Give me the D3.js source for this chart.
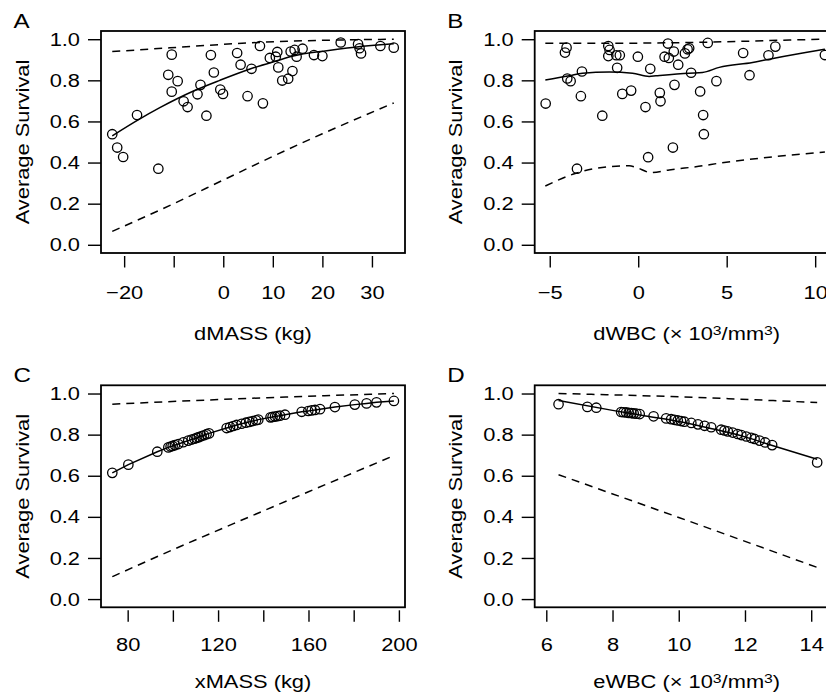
<!DOCTYPE html>
<html>
<head>
<meta charset="utf-8">
<script src="https://cdn.jsdelivr.net/npm/d3@7"></script>
<style>
  body { margin: 0; background: #fff; }
</style>
</head>
<body>
<div id="chart"></div>
<script>
"use strict"

// ---- data ----

// A: dMASS (kg)
const aMass = [-22.4, -21.4, -20.2, -17.4, -13.1, -11.1, -10.4, -10.4, -9.2, -8.0, -7.2, -5.2, -4.6, -3.4, -2.5, -1.9,
    -0.6, -0.05, 2.8, 3.5, 4.9, 5.7, 7.4, 8.0, 9.4, 10.6, 10.9, 11.1, 11.9, 13.1, 13.96, 13.6, 14.4, 14.8, 16.0,
    18.3, 20.0, 23.7, 27.2, 27.5, 27.8, 31.7, 34.4]
const aSurv = [0.538, 0.473, 0.427, 0.631, 0.370, 0.827, 0.925, 0.745, 0.796, 0.698, 0.670, 0.732, 0.778, 0.628, 0.923, 0.838,
    0.755, 0.734, 0.933, 0.876, 0.723, 0.856, 0.967, 0.688, 0.909, 0.915, 0.938, 0.863, 0.799, 0.808, 0.845, 0.940, 0.948, 0.915, 0.954,
    0.923, 0.918, 0.984, 0.976, 0.956, 0.931, 0.967, 0.959]
const aFitX = [-22.4, -17, -12.8, -6, -0.7, 5.4, 10.8, 14.1, 20.9, 25, 31.7, 34.4]
const aFitY = [0.53, 0.61, 0.667, 0.748, 0.80, 0.855, 0.895, 0.918, 0.944, 0.957, 0.973, 0.978]
const aUpX = [-22.4, -10.8, 2, 12.9, 23, 34.4]
const aUpY = [0.940, 0.958, 0.978, 0.990, 0.996, 1.0]
const aLoX = [-22.4, -10, 0, 10, 20, 34.4]
const aLoY = [0.065, 0.20, 0.315, 0.43, 0.54, 0.69]

// B: dWBC
const bWbc = [-5.23, -4.14, -4.05, -4.01, -3.82, -3.46, -3.24, -3.18, -2.03, -1.69, -1.62, -1.69, -1.24, -1.04, -1.19, -0.90,
    -0.40, -0.02, 0.41, 0.56, 0.68, 1.22, 1.26, 1.49, 1.68, 1.73, 2.01, 2.05, 1.96, 2.26, 2.64, 2.79, 2.88, 2.99,
    3.50, 3.67, 3.71, 3.93, 4.42, 5.93, 6.29, 7.36, 7.75, 10.55]
const bSurv = [0.687, 0.935, 0.959, 0.809, 0.796, 0.370, 0.723, 0.843, 0.628, 0.967, 0.948, 0.918, 0.922, 0.922, 0.861, 0.734,
    0.750, 0.915, 0.670, 0.426, 0.856, 0.739, 0.698, 0.915, 0.979, 0.909, 0.940, 0.778, 0.473, 0.876, 0.931, 0.951, 0.956, 0.837,
    0.746, 0.631, 0.538, 0.982, 0.796, 0.933, 0.825, 0.922, 0.964, 0.923]
const bFitX = [-5.25, -3.9, -3.15, -1.64, -0.32, 0.62, 1.0, 2.88, 3.63, 4.58, 6.46, 7.4, 10.04, 10.55]
const bFitY = [0.802, 0.822, 0.835, 0.841, 0.835, 0.819, 0.822, 0.835, 0.838, 0.863, 0.887, 0.903, 0.944, 0.951]
const bUpX = [-5.25, -2, 0, 2, 4, 6, 8, 10.55]
const bUpY = [0.980, 0.980, 0.981, 0.983, 0.986, 0.990, 0.995, 1.0]
const bLoX = [-5.25, -3.52, -2.39, -0.51, -0.13, 0.72, 1.75, 3.63, 4.58, 6.46, 10.55]
const bLoY = [0.286, 0.348, 0.372, 0.384, 0.377, 0.351, 0.364, 0.384, 0.397, 0.417, 0.451]

// C: xMASS (kg)
const cMass = [73.2, 80.3, 93.1, 98.0, 99.0, 99.9, 100.9, 102.4, 104.6, 106.8, 108.3, 109.5, 110.5, 111.5, 112.7, 113.8,
    114.9, 116.0, 123.8, 125.3, 126.7, 128.2, 130.4, 132.3, 133.8, 135.3, 136.8, 137.8, 143.2, 144.1, 145.2, 146.2,
    147.4, 149.6, 157.0, 159.9, 161.4, 162.9, 165.1, 171.7, 180.5, 185.7, 190.1, 197.8]
const cSurv = [0.614, 0.654, 0.717, 0.738, 0.742, 0.745, 0.749, 0.754, 0.763, 0.771, 0.776, 0.780, 0.784, 0.788, 0.793, 0.797,
    0.802, 0.806, 0.832, 0.837, 0.842, 0.847, 0.853, 0.858, 0.862, 0.866, 0.870, 0.873, 0.884, 0.886, 0.888, 0.890,
    0.892, 0.897, 0.911, 0.915, 0.918, 0.920, 0.924, 0.934, 0.946, 0.952, 0.957, 0.964]
const cUpX = [73.2, 110, 150, 197.8]
const cUpY = [0.948, 0.966, 0.983, 1.0]
const cLoX = [73.2, 100, 130, 160, 197.8]
const cLoY = [0.109, 0.24, 0.382, 0.522, 0.698]

// D: eWBC
const dWbc = [6.37, 7.24, 7.51, 8.26, 8.33, 8.41, 8.49, 8.57, 8.64, 8.72, 8.82, 9.24, 9.62, 9.77, 9.87, 9.97, 10.07, 10.17,
    10.38, 10.58, 10.78, 10.98, 11.28, 11.38, 11.48, 11.63, 11.78, 11.89, 12.04, 12.19, 12.29, 12.44, 12.61, 12.82, 14.18]
const dSurv = [0.948, 0.935, 0.931, 0.910, 0.909, 0.908, 0.906, 0.905, 0.903, 0.902, 0.900, 0.889, 0.879, 0.875, 0.872, 0.869,
    0.866, 0.863, 0.857, 0.850, 0.843, 0.836, 0.824, 0.820, 0.816, 0.810, 0.803, 0.798, 0.791, 0.784, 0.779, 0.771, 0.762,
    0.749, 0.665]
const dFitX = [6.37, 8.0, 9.0, 10.0, 11.0, 12.0, 12.8, 14.18]
const dFitY = [0.966, 0.918, 0.891, 0.864, 0.829, 0.789, 0.748, 0.680]
const dUpX = [6.37, 10, 14.18]
const dUpY = [1.0, 0.984, 0.956]
const dLoX = [6.37, 10, 14.18]
const dLoY = [0.605, 0.397, 0.154]

const yTicks = [0, 0.2, 0.4, 0.6, 0.8, 1.0]

// ---- layout ----
const W = 826, H = 693
const BOX_W = 304, BOX_H = 222
const FONT = "'Liberation Sans', Arial, Helvetica, sans-serif"
const FS = 19
const STRETCH = 1.15

const zip = (xs, ys) => xs.map((x, i) => [x, ys[i]])

const panels = [
    { letter: "A", left: 101, top: 31, xDomain: [-24.67, 36.67], xTicks: [-20, -10, 0, 10, 20, 30],
      xShown: [-20, 0, 10, 20, 30], title: [["dMASS (kg)"]], tickBase: 46.5, titleBase: 87.3,
      pts: zip(aMass, aSurv), fit: zip(aFitX, aFitY), fitCurve: true, up: zip(aUpX, aUpY), lo: zip(aLoX, aLoY) },
    { letter: "B", left: 534.7, top: 31, xDomain: [-5.85, 11.33], xTicks: [-5, 0, 5, 10],
      xShown: [-5, 0, 5, 10], title: [["dWBC (\u00d7 10"], ["3", true], ["/mm"], ["3", true], [")"]], tickBase: 46.5, titleBase: 87.3,
      pts: zip(bWbc, bSurv), fit: zip(bFitX, bFitY), fitCurve: true, up: zip(bUpX, bUpY), lo: zip(bLoX, bLoY) },
    { letter: "C", left: 101, top: 385.3, xDomain: [68.2, 202.7], xTicks: [80, 100, 120, 140, 160, 180, 200],
      xShown: [80, 120, 160, 200], title: [["xMASS (kg)"]], tickBase: 43.3, titleBase: 81,
      pts: zip(cMass, cSurv), fit: zip(cMass, cSurv), fitCurve: false, up: zip(cUpX, cUpY), lo: zip(cLoX, cLoY) },
    { letter: "D", left: 534.7, top: 385.3, xDomain: [5.65, 14.83], xTicks: [6, 8, 10, 12, 14],
      xShown: [6, 8, 10, 12, 14], title: [["eWBC (\u00d7 10"], ["3", true], ["/mm"], ["3", true], [")"]], tickBase: 43.3, titleBase: 81,
      pts: zip(dWbc, dSurv), fit: zip(dFitX, dFitY), fitCurve: true, up: zip(dUpX, dUpY), lo: zip(dLoX, dLoY) }
]

const svg = d3.select("#chart").append("svg")
    .attr("width", W)
    .attr("height", H)
    .style("font-family", FONT)

svg.append("rect").attr("width", W).attr("height", H).attr("fill", "#fff")

function stretchedText(parent, x, y, rotate) {
    return parent.append("g")
        .attr("transform", "translate(" + x + "," + y + ")" + (rotate ? " rotate(-90)" : "") + " scale(" + STRETCH + ",1)")
        .append("text")
        .style("font-size", FS + "px")
        .attr("fill", "#000")
}

function renderPanel(p) {
    const g = svg.append("g")
    const bottom = p.top + BOX_H

    const x = d3.scaleLinear().domain(p.xDomain).range([p.left, p.left + BOX_W])
    const y = d3.scaleLinear().domain([-0.04, 1.04]).range([bottom, p.top])

    // y axis
    const yAxis = d3.axisLeft(y)
        .tickValues(yTicks)
        .tickSize(13)
        .tickFormat(d3.format(".1f"))
    const gy = g.append("g")
        .attr("transform", "translate(" + p.left + ",0)")
        .call(yAxis)
    gy.select(".domain").remove()
    gy.selectAll(".tick line").attr("stroke", "#000").attr("stroke-width", 1.4)
    gy.selectAll(".tick text")
        .attr("x", -21 / STRETCH)
        .attr("transform", "scale(" + STRETCH + ",1)")
        .style("font-size", FS + "px")
        .style("font-family", FONT)
        .attr("fill", "#000")

    // x axis, hanging a little below the box
    const xAxis = d3.axisBottom(x)
        .tickValues(p.xTicks)
        .tickSize(11.5)
        .tickFormat(d => p.xShown.includes(d) ? d3.format("d")(d) : "")
    const gx = g.append("g")
        .attr("transform", "translate(0," + (bottom + 3) + ")")
        .call(xAxis)
    gx.select(".domain").remove()
    gx.selectAll(".tick line").attr("stroke", "#000").attr("stroke-width", 1.4)
    gx.selectAll(".tick text")
        .attr("y", p.tickBase - 3)
        .attr("dy", null)
        .attr("transform", "scale(" + STRETCH + ",1)")
        .style("font-size", FS + "px")
        .style("font-family", FONT)
        .attr("fill", "#000")

    // dashed bands
    const line = d3.line().x(d => x(d[0])).y(d => y(d[1])).curve(d3.curveMonotoneX)
    const dashed = [p.up, p.lo]
    g.selectAll(".band")
        .data(dashed)
        .enter()
        .append("path")
        .attr("class", "band")
        .attr("d", line)
        .attr("fill", "none")
        .attr("stroke", "#000")
        .attr("stroke-width", 1.5)
        .attr("stroke-dasharray", "8,6")

    // fitted line
    const fitLine = p.fitCurve ? line : d3.line().x(d => x(d[0])).y(d => y(d[1]))
    g.append("path")
        .attr("d", fitLine(p.fit))
        .attr("fill", "none")
        .attr("stroke", "#000")
        .attr("stroke-width", 1.5)

    // points
    g.selectAll(".pt")
        .data(p.pts)
        .enter()
        .append("circle")
        .attr("class", "pt")
        .attr("cx", d => x(d[0]))
        .attr("cy", d => y(d[1]))
        .attr("r", 4.7)
        .attr("fill", "none")
        .attr("stroke", "#000")
        .attr("stroke-width", 1.3)

    // box
    g.append("rect")
        .attr("x", p.left)
        .attr("y", p.top)
        .attr("width", BOX_W)
        .attr("height", BOX_H)
        .attr("fill", "none")
        .attr("stroke", "#000")
        .attr("stroke-width", 1.8)

    // y title
    stretchedText(g, p.left - 72.5, p.top + BOX_H / 2, true)
        .attr("text-anchor", "middle")
        .text("Average Survival")

    // x title with superscripts
    const t = stretchedText(g, p.left + BOX_W / 2, bottom + p.titleBase, false)
        .attr("text-anchor", "middle")
    let raised = false
    p.title.forEach(part => {
        const sup = !!part[1]
        const ts = t.append("tspan").text(part[0])
        if (sup && !raised) ts.attr("dy", "-0.42em").style("font-size", "0.72em")
        else if (!sup && raised) ts.attr("dy", "0.3em")
        raised = sup
    })

    // panel letter
    stretchedText(g, p.left - 87.5, p.top - 3, false)
        .style("font-size", "21px")
        .text(p.letter)
}

panels.forEach(renderPanel)
</script>
</body>
</html>
